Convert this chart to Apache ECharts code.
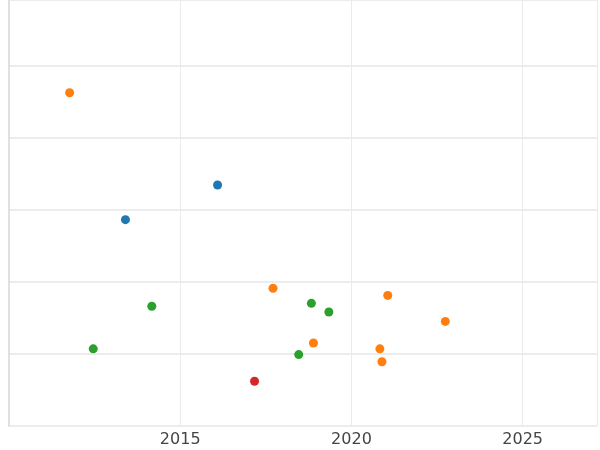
<!DOCTYPE html>
<html>
<head>
<meta charset="utf-8">
<script src="https://cdn.jsdelivr.net/npm/echarts@6/dist/echarts.min.js"></script>
<style>html,body{margin:0;padding:0;background:#fff}#chart{width:600px;height:450px}</style>
</head>
<body>
<div id="chart"></div>
<script>
// year, value pairs per group
const blueX = [2013.4, 2016.09];
const blueY = [2.86, 3.34];
const orangeX = [2011.77, 2017.71, 2021.06, 2022.74, 2018.89, 2020.83, 2020.89];
const orangeY = [4.62, 1.91, 1.81, 1.45, 1.15, 1.07, 0.89];
const greenX = [2014.17, 2018.83, 2019.34, 2012.46, 2018.46];
const greenY = [1.66, 1.70, 1.58, 1.07, 0.99];
const redX = [2017.17];
const redY = [0.62];
const xTicks = [2015, 2020, 2025];

function pairs(xs, ys) {
  return xs.map((x, i) => [x, ys[i]]);
}

const chart = echarts.init(document.getElementById('chart'));

function scatter(xs, ys, color) {
  return {
    type: 'scatter',
    symbolSize: 9,
    itemStyle: {color: color, opacity: 1},
    data: pairs(xs, ys)
  };
}

// grid runs past the top and right edges so the edge split lines stay hidden
chart.setOption({
  animation: false,
  grid: {left: 9, right: -10, top: -10, bottom: 24},
  xAxis: {
    type: 'value', min: 2010, max: 2027.17, interval: 5,
    axisLine: {show: false}, axisTick: {show: false},
    axisLabel: {
      fontSize: 16, color: '#444', fontFamily: 'DejaVu Sans', margin: 6,
      formatter: v => xTicks.includes(v) ? String(v) : ''
    },
    splitLine: {lineStyle: {color: '#ebebeb'}}
  },
  yAxis: {
    type: 'value', min: 0, max: 5.905, interval: 1,
    axisLine: {show: true, lineStyle: {color: '#e0e0e0', width: 2}},
    axisTick: {show: false}, axisLabel: {show: false},
    splitLine: {lineStyle: {color: '#e6e6e6', width: 1.5}}
  },
  series: [
    scatter(blueX, blueY, '#1f77b4'),
    scatter(orangeX, orangeY, '#ff7f0e'),
    scatter(greenX, greenY, '#2ca02c'),
    scatter(redX, redY, '#d62728')
  ]
});
</script>
</body>
</html>
